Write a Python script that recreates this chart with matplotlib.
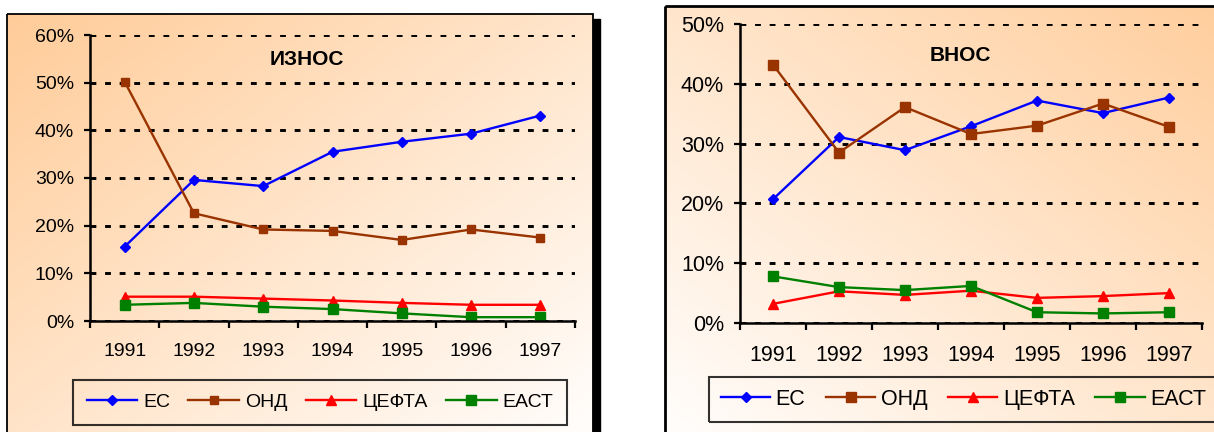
import numpy as np
import matplotlib
matplotlib.use("Agg")
import matplotlib.pyplot as plt
from matplotlib.patches import Rectangle
from matplotlib.ticker import FixedLocator, FuncFormatter

plt.rcParams["font.family"] = ["Liberation Sans", "DejaVu Sans"]

# данни
years = ["1991", "1992", "1993", "1994", "1995", "1996", "1997"]
series_names = ["ЕС", "ОНД", "ЦЕФТА", "ЕАСТ"]

# ИЗНОС (%)
export_es = [15.6, 29.6, 28.3, 35.5, 37.6, 39.3, 43.1]
export_ond = [50.2, 22.6, 19.2, 18.9, 17.0, 19.2, 17.5]
export_cefta = [5.1, 5.1, 4.7, 4.3, 3.8, 3.4, 3.4]
export_east = [3.4, 3.8, 3.0, 2.5, 1.6, 0.8, 0.8]

# ВНОС (%)
import_es = [20.7, 31.1, 28.9, 32.9, 37.2, 35.1, 37.7]
import_ond = [43.2, 28.5, 36.1, 31.6, 33.0, 36.7, 32.8]
import_cefta = [3.2, 5.3, 4.7, 5.4, 4.2, 4.5, 5.0]
import_east = [7.8, 6.0, 5.5, 6.2, 1.8, 1.6, 1.8]

W, H = 1214, 432
ORANGE = np.array([255, 204, 153]) / 255.0

fig = plt.figure(figsize=(W / 100, H / 100), dpi=100)

# фон с градиент (координати в пиксели)
bg = fig.add_axes([0, 0, 1, 1])
bg.set_xlim(0, W)
bg.set_ylim(H, 0)
bg.axis("off")


def gradient(flip):
    u = np.linspace(0, 1, 300)[None, :]
    v = np.linspace(0, 1, 300)[:, None]
    if flip:
        u = 1 - u
    t = np.clip((u + v) / 2, 0, 1)[..., None]
    return ORANGE * (1 - t) + np.ones(3) * t


bg.imshow(gradient(False), extent=(7, 593, 460, 14), aspect="auto", zorder=0)
bg.add_patch(Rectangle((593, 19), 7, 450, color="black", zorder=1))
bg.add_patch(Rectangle((7, 14), 586, 450, fill=False, ec="black", lw=1.3, zorder=2))

bg.imshow(gradient(True), extent=(665, 1270, 460, 6), aspect="auto", zorder=0)
bg.add_patch(Rectangle((665, 6), 605, 450, fill=False, ec="black", lw=2.0, zorder=2))


def draw_panel(ax, es, ond, cefta, east, ymax, title, tx, ty, sq, fs):
    x = np.arange(len(years))
    ax.set_facecolor("none")
    ax.plot(x, es, color="#0000FF", lw=1.7, marker="D", ms=5.5, label=series_names[0])
    ax.plot(x, ond, color="#993300", lw=1.7, marker="s", ms=sq, label=series_names[1])
    ax.plot(x, cefta, color="#FF0000", lw=1.7, marker="^", ms=7, label=series_names[2])
    ax.plot(x, east, color="#008000", lw=1.7, marker="s", ms=7, label=series_names[3])

    ax.set_xlim(-0.5, len(years) - 0.5)
    ax.set_ylim(0, ymax)
    ax.set_xticks(x)
    ax.set_xticklabels(years, fontsize=fs)
    ax.xaxis.set_minor_locator(FixedLocator(np.arange(-0.5, len(years), 1.0)))
    ax.tick_params(axis="x", which="major", length=0, pad=16)
    ax.tick_params(axis="x", which="minor", length=5, width=1.6, direction="out")

    ax.set_yticks(np.arange(0, ymax + 1, 10))
    ax.yaxis.set_major_formatter(FuncFormatter(lambda v, p: f"{int(v)}%"))
    ax.tick_params(axis="y", length=4.5, width=1.6, pad=7, labelsize=fs)

    ax.yaxis.grid(True, color="black", linestyle=(0, (2, 3)), lw=2.1)
    ax.set_axisbelow(True)
    for s in ["top", "right"]:
        ax.spines[s].set_visible(False)
    for s in ["left", "bottom"]:
        ax.spines[s].set_linewidth(1.8)

    ax.text(tx, ty, title, transform=ax.transAxes, ha="center", va="center",
            fontsize=15, fontweight="bold")


ax1 = fig.add_axes([90 / W, (H - 321) / H, 485 / W, 286 / H])
draw_panel(ax1, export_es, export_ond, export_cefta, export_east, 60,
           "ИЗНОС", 0.447, 0.913, 6, 14)

ax2 = fig.add_axes([740 / W, (H - 323) / H, 462 / W, 299 / H])
draw_panel(ax2, import_es, import_ond, import_cefta, import_east, 50,
           "ВНОС", 0.478, 0.893, 6.5, 15.5)

# легенда вляво - разпъната в рамката
handles, labels = ax1.get_legend_handles_labels()
leg = fig.legend(handles, labels, loc="upper left", ncol=4, mode="expand",
                 bbox_to_anchor=(73 / W, 1 - 380 / H, 494 / W, 0),
                 bbox_transform=fig.transFigure, fontsize=14,
                 frameon=True, fancybox=False, edgecolor="black",
                 facecolor="none", handlelength=2.6, handletextpad=0.3,
                 borderpad=0.7, columnspacing=1.0, borderaxespad=0)
leg.get_frame().set_linewidth(1.5)

# легенда вдясно - излиза извън картинката
handles, labels = ax2.get_legend_handles_labels()
leg = fig.legend(handles, labels, loc="upper left", ncol=4,
                 bbox_to_anchor=(709 / W, 1 - 377 / H),
                 bbox_transform=fig.transFigure, fontsize=15.5,
                 frameon=True, fancybox=False, edgecolor="black",
                 facecolor="none", handlelength=2.3, handletextpad=0.25,
                 borderpad=0.55, columnspacing=0.95, borderaxespad=0)
leg.get_frame().set_linewidth(1.5)

plt.savefig("out.png", dpi=100)
